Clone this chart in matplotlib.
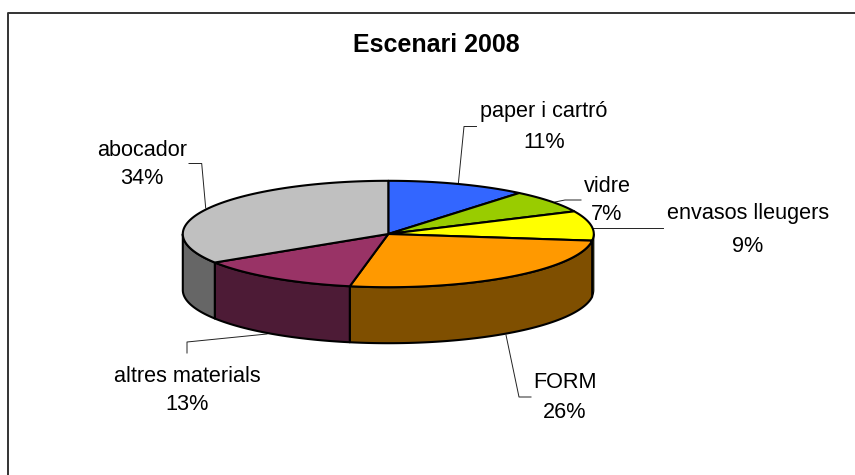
import numpy as np
import matplotlib
matplotlib.use("Agg")
import matplotlib.pyplot as plt

plt.rcParams['font.family'] = ['Liberation Sans', 'DejaVu Sans']

# Data
labels = ["paper i cartró", "vidre", "envasos lleugers", "FORM", "altres materials", "abocador"]
values = [11, 7, 9, 26, 13, 34]
top_colors = ["#3366FF", "#99CC00", "#FFFF00", "#FF9900", "#993366", "#C0C0C0"]
side_colors = ["#1A3380", "#4D6600", "#807F00", "#7F4F00", "#4D1B36", "#666666"]

# Label centres and leader lines, in pixels
label_xy = [(544, 112), (607, 187), (748, 214), (564.5, 383), (187.5, 376), (142, 150)]
label_gap = [30.7, 28, 33, 30, 29, 29]
leaders = [
    [(458.3, 184), (464, 126.5), (476.5, 126.5)],
    [(555, 202), (565, 200), (581, 200)],
    [(593, 228), (663, 228)],
    [(506, 335), (519, 397), (531, 397)],
    [(267, 334), (187, 342), (187, 353)],
    [(205.7, 208), (201.7, 163.5), (189, 163.5)],
]

cx, cy = 388.3, 234.0
rx, ry = 205.5, 53.2
depth = 56


def rim(t0, t1, dy=0):
    # points on the ellipse, angles clockwise from the top, degrees
    t = np.radians(np.linspace(t0, t1, max(int(abs(t1 - t0)) * 2, 2)))
    return np.column_stack((cx + rx * np.sin(t), cy - ry * np.cos(t) + dy))


fig = plt.figure(figsize=(8.55, 4.75), dpi=100)
ax = fig.add_axes([0, 0, 1, 1])
ax.set_xlim(0, 855)
ax.set_ylim(475, 0)
ax.axis("off")

# Chart frame, runs off the right and bottom of the picture
ax.plot([7.5, 7.5, 855], [475, 12.7, 12.7], color="#333333", lw=1.4, zorder=1)

ax.text(436, 45, "Escenari 2008", fontsize=18, fontweight="bold", ha="center", va="center")

edges = np.cumsum([0] + values) * 3.6

# Side walls, only the front half of the rim shows
for a, b, c in zip(edges[:-1], edges[1:], side_colors):
    lo, hi = max(a, 90), min(b, 270)
    if lo >= hi:
        continue
    front = rim(lo, hi)
    back = rim(hi, lo, depth)
    # the yellow slice only just shows, a thick edge would hide it
    lw = 0.8 if hi - lo < 10 else 1.5
    ax.fill(*np.vstack((front, back)).T, fc=c, ec="black", lw=lw, joinstyle="round", zorder=2)

# Top faces
for a, b, c in zip(edges[:-1], edges[1:], top_colors):
    pts = np.vstack(([(cx, cy)], rim(a, b)))
    ax.fill(*pts.T, fc=c, ec="black", lw=1.5, joinstyle="round", zorder=3)

# Leader lines and labels
for name, val, (x, y), gap, line in zip(labels, values, label_xy, label_gap, leaders):
    ax.plot(*np.array(line).T, color="#222222", lw=0.7, zorder=1.5)
    ax.text(x, y, name, fontsize=15.6, ha="center", va="center", zorder=5)
    ax.text(x, y + gap, f"{val}%", fontsize=15.6, ha="center", va="center", zorder=5)

fig.savefig("out.png", dpi=100)
plt.close(fig)
